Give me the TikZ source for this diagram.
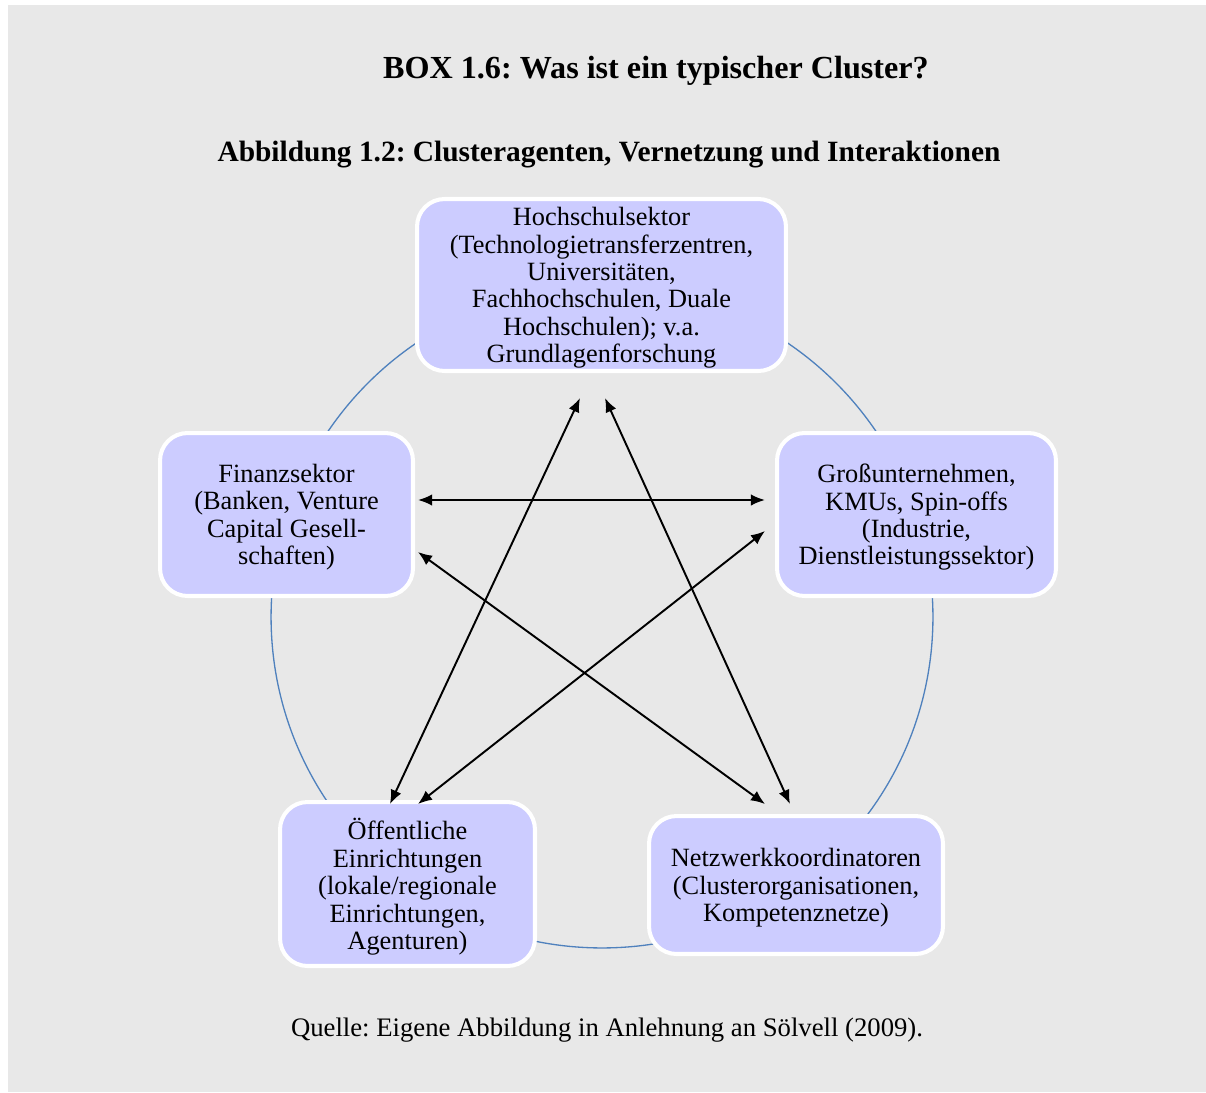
\documentclass[tikz,border=0pt]{standalone}
\usepackage{fontspec}
\setmainfont{Liberation Serif}
\usepackage{xcolor}
\usetikzlibrary{arrows.meta}
\definecolor{boxbg}{HTML}{E8E8E8}
\definecolor{agentfill}{HTML}{CCCCFF}
\definecolor{ringblue}{HTML}{4F81BD}
\frenchspacing

\begin{document}
\begin{tikzpicture}[
			     x=0.02cm, y=-0.02cm,
			     >={Latex[length=8pt,width=6.5pt]},
			     agent/.style={draw=white, line width=2.3pt, fill=agentfill, rounded corners=0.55cm,
			                   align=center, inner sep=2pt, font=\fontsize{15}{15.6}\selectfont,
			                   text depth=-0.8pt},
			     link/.style={<->, line width=1.1pt},
			     ring/.style={draw=ringblue, line width=0.75pt}
			     ]
\useasboundingbox (0,0) rectangle (1206,1092);
\fill[boxbg] (8,5) rectangle (1206,1092);

\node[font=\fontsize{18.3}{20}\selectfont\bfseries, anchor=base] (title) at (656,78) {BOX 1.6: Was ist ein typischer Cluster?};
\node[font=\fontsize{16.75}{18}\selectfont\bfseries, anchor=base] (subtitle) at (609,161) {Abbildung 1.2: Clusteragenten, Vernetzung und Interaktionen};

% ring behind the agents
\coordinate (mid) at (602,617);
\draw[ring] (mid) circle[radius=6.62cm];

% agents
\node[agent, minimum width=7.38cm, minimum height=3.44cm] (hs) at (601.5,285) {Hochschulsektor\\(Technologietransferzentren,\\Universitäten,\\Fachhochschulen, Duale\\Hochschulen); v.a.\\Grundlagenforschung};
\node[agent, minimum width=5.06cm, minimum height=3.26cm] (fin) at (286.5,514.5) {Finanzsektor\\(Banken, Venture\\Capital Gesell-\\schaften)};
\node[agent, minimum width=5.58cm, minimum height=3.26cm] (gu) at (916.5,514.5) {Großunternehmen,\\KMUs, Spin-offs\\(Industrie,\\Dienstleistungssektor)};
\node[agent, minimum width=5.1cm, minimum height=3.28cm] (oe) at (407.5,884) {Öffentliche\\Einrichtungen\\(lokale/regionale\\Einrichtungen,\\Agenturen)};
\node[agent, minimum width=5.88cm, minimum height=2.76cm] (nw) at (796,885) {Netzwerkkoordinatoren\\(Clusterorganisationen,\\Kompetenznetze)};

% arrow ends
\coordinate (hs-l) at (580,398);
\coordinate (hs-r) at (605,398);
\coordinate (fin-a) at (418,500);
\coordinate (fin-b) at (418,552);
\coordinate (gu-a) at (765,500);
\coordinate (gu-b) at (765,531);
\coordinate (oe-a) at (390,804);
\coordinate (oe-b) at (418,804);
\coordinate (nw-a) at (765,804);
\coordinate (nw-b) at (790,804);

\draw[link] (fin-a) -- (gu-a);
\draw[link] (fin-b) -- (nw-a);
\draw[link] (gu-b) -- (oe-b);
\draw[link] (hs-l) -- (oe-a);
\draw[link] (hs-r) -- (nw-b);

\node[font=\fontsize{15.2}{16}\selectfont, anchor=base] (source) at (607,1036) {Quelle: Eigene Abbildung in Anlehnung an Sölvell (2009).};
\end{tikzpicture}
\end{document}
